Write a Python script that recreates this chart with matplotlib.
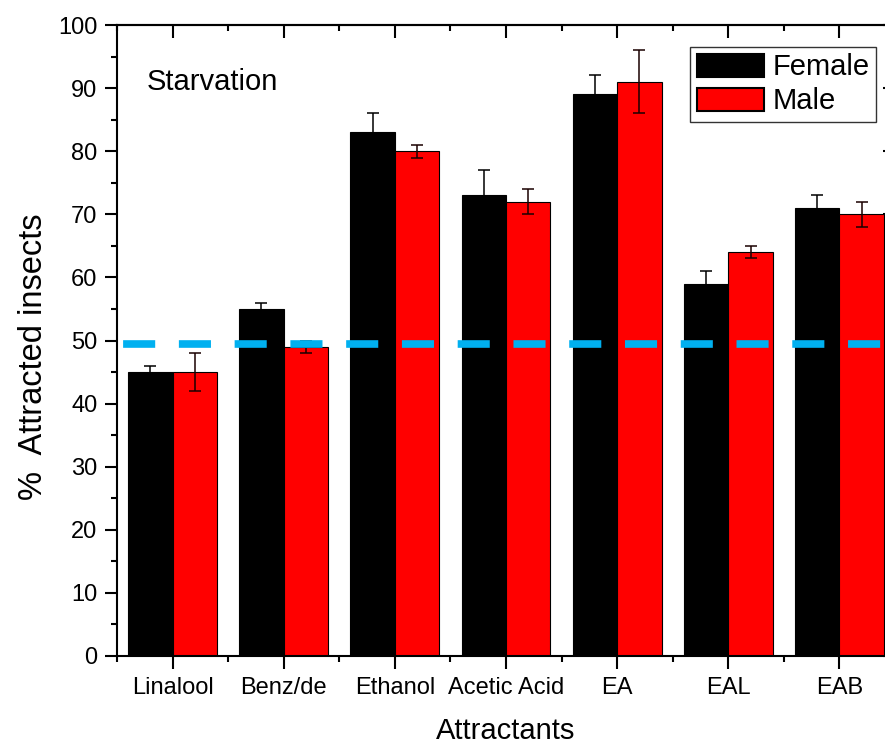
import numpy as np
import matplotlib.pyplot as plt

plt.rcParams['font.family'] = ['Liberation Sans', 'DejaVu Sans']

attractants = ['Linalool', 'Benz/de', 'Ethanol', 'Acetic Acid', 'EA', 'EAL', 'EAB']
female = [45, 55, 83, 73, 89, 59, 71]
female_err = [1, 1, 3, 4, 3, 2, 2]
male = [45, 49, 80, 72, 91, 64, 70]
male_err = [3, 1, 1, 2, 5, 1, 2]
threshold = 49.5

x = np.arange(1, len(attractants) + 1)
w = 0.4

fig = plt.figure(figsize=(8.85, 7.44), dpi=100)
ax = fig.add_axes([117/885, 1 - 656/744, 778/885, 631/744])

ax.bar(x - w/2, female, w, color='black', edgecolor='black', linewidth=0.8,
       label='Female', zorder=2)
ax.bar(x + w/2, male, w, color='#ff0000', edgecolor='black', linewidth=0.8,
       label='Male', zorder=2)
ax.errorbar(x - w/2, female, yerr=female_err, fmt='none', ecolor='black',
            elinewidth=1.1, capsize=4.5, capthick=1.1, zorder=3)
ax.errorbar(x + w/2, male, yerr=male_err, fmt='none', ecolor='#1a0000',
            elinewidth=1.1, capsize=4.5, capthick=1.1, zorder=3)

# chance level line, pattern starts with a short gap
ax.plot([0.5, 7.5], [threshold, threshold], color='#00b0f0', linewidth=5.5,
        linestyle=(6.5, (4.2, 3.1)), dash_capstyle='butt', zorder=4)

ax.set_xlim(0.5, 7.5)
ax.set_ylim(0, 100)
ax.set_xticks(x)
ax.set_xticklabels(attractants)
ax.set_xticks(np.arange(0.5, 8, 1), minor=True)
ax.set_yticks(np.arange(0, 101, 10))
ax.set_yticks(np.arange(5, 100, 10), minor=True)

for s in ax.spines.values():
    s.set_linewidth(1.5)
ax.tick_params(which='major', direction='out', length=9, width=1.5, labelsize=17)
ax.tick_params(which='minor', direction='out', length=4.5, width=1.5)
ax.tick_params(axis='x', which='major', pad=6)
ax.tick_params(axis='y', which='major', pad=5)

# top and right axes with inward ticks, no labels
top = ax.secondary_xaxis('top')
top.set_xticks(x)
top.set_xticks(np.arange(0.5, 8, 1), minor=True)
top.tick_params(which='major', direction='in', length=9, width=1.5, labeltop=False)
top.tick_params(which='minor', direction='in', length=4.5, width=1.5)
top.spines['top'].set_linewidth(1.5)
right = ax.secondary_yaxis('right')
right.set_yticks(np.arange(0, 101, 10))
right.set_yticks(np.arange(5, 100, 10), minor=True)
right.tick_params(which='major', direction='in', length=9, width=1.5, labelright=False)
right.tick_params(which='minor', direction='in', length=4.5, width=1.5)

ax.set_xlabel('Attractants', fontsize=21, labelpad=13)
ax.set_ylabel('%  Attracted insects', fontsize=23.5)
ax.yaxis.set_label_coords(-0.087, 0.474)

ax.text(147/885, 1 - 82/744, 'Starvation', transform=fig.transFigure,
        fontsize=21, ha='left', va='center')

leg = ax.legend(loc='upper right', bbox_to_anchor=(876/885, 1 - 47/744),
                bbox_transform=fig.transFigure, fontsize=21, frameon=True,
                fancybox=False, edgecolor='#333333', framealpha=1,
                handlelength=2.3, handleheight=0.85, handletextpad=0.3,
                labelspacing=0.2, borderpad=0.22, borderaxespad=0)
leg.get_frame().set_linewidth(1.0)
for p in leg.get_patches():
    p.set_linewidth(1.5)

fig.savefig('out.png', dpi=100)
